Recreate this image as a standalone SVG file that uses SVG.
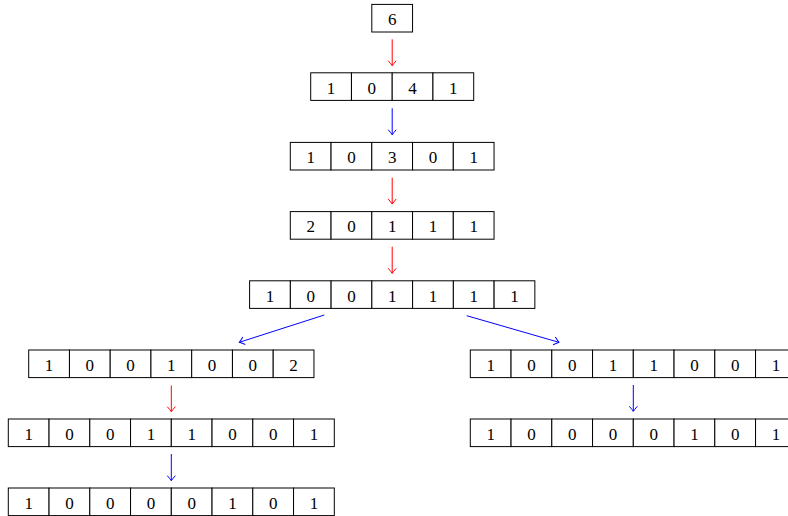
<svg xmlns="http://www.w3.org/2000/svg" width="788" height="516" viewBox="0 0 788 516">
<style>
  .c { fill: #fff; stroke: #000; stroke-width: 1; }
  .t { font-family: "Liberation Serif", "Times New Roman", serif; font-size: 17px; text-anchor: middle; fill: #000; }
  .r { stroke: #ff0000; stroke-width: 1; fill: none; }
  .b { stroke: #0000ff; stroke-width: 1; fill: none; }
</style>
<defs>
  <marker id="ar" viewBox="-6 -5 7 10" refX="0" refY="0" markerWidth="7" markerHeight="10" markerUnits="userSpaceOnUse" orient="auto">
    <path d="M-5,-4 Q-1.5,-1 0,0 Q-1.5,1 -5,4" fill="none" stroke="#ff0000" stroke-width="1"/>
  </marker>
  <marker id="ab" viewBox="-6 -5 7 10" refX="0" refY="0" markerWidth="7" markerHeight="10" markerUnits="userSpaceOnUse" orient="auto">
    <path d="M-5,-4 Q-1.5,-1 0,0 Q-1.5,1 -5,4" fill="none" stroke="#0000ff" stroke-width="1"/>
  </marker>
</defs>

<g id="n0" transform="translate(371.8,4.4)">
  <rect class="c" x="0" y="0" width="40.75" height="27.6"/>
  <text class="t" x="20.4" y="20.8">6</text>
</g>

<g id="n1" transform="translate(310.7,72.8)">
  <rect class="c" x="0" y="0" width="40.75" height="27.6"/>
  <rect class="c" x="40.75" y="0" width="40.75" height="27.6"/>
  <rect class="c" x="81.5" y="0" width="40.75" height="27.6"/>
  <rect class="c" x="122.25" y="0" width="40.75" height="27.6"/>
  <text class="t" x="20.4" y="20.8">1</text>
  <text class="t" x="61.1" y="20.8">0</text>
  <text class="t" x="101.9" y="20.8">4</text>
  <text class="t" x="142.6" y="20.8">1</text>
</g>

<g id="n2" transform="translate(290.3,142.4)">
  <rect class="c" x="0" y="0" width="40.75" height="27.6"/>
  <rect class="c" x="40.75" y="0" width="40.75" height="27.6"/>
  <rect class="c" x="81.5" y="0" width="40.75" height="27.6"/>
  <rect class="c" x="122.25" y="0" width="40.75" height="27.6"/>
  <rect class="c" x="163" y="0" width="40.75" height="27.6"/>
  <text class="t" x="20.4" y="20.8">1</text>
  <text class="t" x="61.1" y="20.8">0</text>
  <text class="t" x="101.9" y="20.8">3</text>
  <text class="t" x="142.6" y="20.8">0</text>
  <text class="t" x="183.4" y="20.8">1</text>
</g>

<g id="n3" transform="translate(290.3,211.6)">
  <rect class="c" x="0" y="0" width="40.75" height="27.6"/>
  <rect class="c" x="40.75" y="0" width="40.75" height="27.6"/>
  <rect class="c" x="81.5" y="0" width="40.75" height="27.6"/>
  <rect class="c" x="122.25" y="0" width="40.75" height="27.6"/>
  <rect class="c" x="163" y="0" width="40.75" height="27.6"/>
  <text class="t" x="20.4" y="20.8">2</text>
  <text class="t" x="61.1" y="20.8">0</text>
  <text class="t" x="101.9" y="20.8">1</text>
  <text class="t" x="142.6" y="20.8">1</text>
  <text class="t" x="183.4" y="20.8">1</text>
</g>

<g id="n4" transform="translate(249.6,280.8)">
  <rect class="c" x="0" y="0" width="40.75" height="27.6"/>
  <rect class="c" x="40.75" y="0" width="40.75" height="27.6"/>
  <rect class="c" x="81.5" y="0" width="40.75" height="27.6"/>
  <rect class="c" x="122.25" y="0" width="40.75" height="27.6"/>
  <rect class="c" x="163" y="0" width="40.75" height="27.6"/>
  <rect class="c" x="203.75" y="0" width="40.75" height="27.6"/>
  <rect class="c" x="244.5" y="0" width="40.75" height="27.6"/>
  <text class="t" x="20.4" y="20.8">1</text>
  <text class="t" x="61.1" y="20.8">0</text>
  <text class="t" x="101.9" y="20.8">0</text>
  <text class="t" x="142.6" y="20.8">1</text>
  <text class="t" x="183.4" y="20.8">1</text>
  <text class="t" x="224.1" y="20.8">1</text>
  <text class="t" x="264.9" y="20.8">1</text>
</g>

<g id="n5L" transform="translate(28.7,350)">
  <rect class="c" x="0" y="0" width="40.75" height="27.6"/>
  <rect class="c" x="40.75" y="0" width="40.75" height="27.6"/>
  <rect class="c" x="81.5" y="0" width="40.75" height="27.6"/>
  <rect class="c" x="122.25" y="0" width="40.75" height="27.6"/>
  <rect class="c" x="163" y="0" width="40.75" height="27.6"/>
  <rect class="c" x="203.75" y="0" width="40.75" height="27.6"/>
  <rect class="c" x="244.5" y="0" width="40.75" height="27.6"/>
  <text class="t" x="20.4" y="20.8">1</text>
  <text class="t" x="61.1" y="20.8">0</text>
  <text class="t" x="101.9" y="20.8">0</text>
  <text class="t" x="142.6" y="20.8">1</text>
  <text class="t" x="183.4" y="20.8">0</text>
  <text class="t" x="224.1" y="20.8">0</text>
  <text class="t" x="264.9" y="20.8">2</text>
</g>

<g id="n5R" transform="translate(470.3,350)">
  <rect class="c" x="0" y="0" width="40.75" height="27.6"/>
  <rect class="c" x="40.75" y="0" width="40.75" height="27.6"/>
  <rect class="c" x="81.5" y="0" width="40.75" height="27.6"/>
  <rect class="c" x="122.25" y="0" width="40.75" height="27.6"/>
  <rect class="c" x="163" y="0" width="40.75" height="27.6"/>
  <rect class="c" x="203.75" y="0" width="40.75" height="27.6"/>
  <rect class="c" x="244.5" y="0" width="40.75" height="27.6"/>
  <rect class="c" x="285.25" y="0" width="40.75" height="27.6"/>
  <text class="t" x="20.4" y="20.8">1</text>
  <text class="t" x="61.1" y="20.8">0</text>
  <text class="t" x="101.9" y="20.8">0</text>
  <text class="t" x="142.6" y="20.8">1</text>
  <text class="t" x="183.4" y="20.8">1</text>
  <text class="t" x="224.1" y="20.8">0</text>
  <text class="t" x="264.9" y="20.8">0</text>
  <text class="t" x="305.6" y="20.8">1</text>
</g>

<g id="n6L" transform="translate(8.3,419)">
  <rect class="c" x="0" y="0" width="40.75" height="27.6"/>
  <rect class="c" x="40.75" y="0" width="40.75" height="27.6"/>
  <rect class="c" x="81.5" y="0" width="40.75" height="27.6"/>
  <rect class="c" x="122.25" y="0" width="40.75" height="27.6"/>
  <rect class="c" x="163" y="0" width="40.75" height="27.6"/>
  <rect class="c" x="203.75" y="0" width="40.75" height="27.6"/>
  <rect class="c" x="244.5" y="0" width="40.75" height="27.6"/>
  <rect class="c" x="285.25" y="0" width="40.75" height="27.6"/>
  <text class="t" x="20.4" y="20.8">1</text>
  <text class="t" x="61.1" y="20.8">0</text>
  <text class="t" x="101.9" y="20.8">0</text>
  <text class="t" x="142.6" y="20.8">1</text>
  <text class="t" x="183.4" y="20.8">1</text>
  <text class="t" x="224.1" y="20.8">0</text>
  <text class="t" x="264.9" y="20.8">0</text>
  <text class="t" x="305.6" y="20.8">1</text>
</g>

<g id="n6R" transform="translate(470.3,419)">
  <rect class="c" x="0" y="0" width="40.75" height="27.6"/>
  <rect class="c" x="40.75" y="0" width="40.75" height="27.6"/>
  <rect class="c" x="81.5" y="0" width="40.75" height="27.6"/>
  <rect class="c" x="122.25" y="0" width="40.75" height="27.6"/>
  <rect class="c" x="163" y="0" width="40.75" height="27.6"/>
  <rect class="c" x="203.75" y="0" width="40.75" height="27.6"/>
  <rect class="c" x="244.5" y="0" width="40.75" height="27.6"/>
  <rect class="c" x="285.25" y="0" width="40.75" height="27.6"/>
  <text class="t" x="20.4" y="20.8">1</text>
  <text class="t" x="61.1" y="20.8">0</text>
  <text class="t" x="101.9" y="20.8">0</text>
  <text class="t" x="142.6" y="20.8">0</text>
  <text class="t" x="183.4" y="20.8">0</text>
  <text class="t" x="224.1" y="20.8">1</text>
  <text class="t" x="264.9" y="20.8">0</text>
  <text class="t" x="305.6" y="20.8">1</text>
</g>

<g id="n7L" transform="translate(8.3,488)">
  <rect class="c" x="0" y="0" width="40.75" height="27.6"/>
  <rect class="c" x="40.75" y="0" width="40.75" height="27.6"/>
  <rect class="c" x="81.5" y="0" width="40.75" height="27.6"/>
  <rect class="c" x="122.25" y="0" width="40.75" height="27.6"/>
  <rect class="c" x="163" y="0" width="40.75" height="27.6"/>
  <rect class="c" x="203.75" y="0" width="40.75" height="27.6"/>
  <rect class="c" x="244.5" y="0" width="40.75" height="27.6"/>
  <rect class="c" x="285.25" y="0" width="40.75" height="27.6"/>
  <text class="t" x="20.4" y="20.8">1</text>
  <text class="t" x="61.1" y="20.8">0</text>
  <text class="t" x="101.9" y="20.8">0</text>
  <text class="t" x="142.6" y="20.8">0</text>
  <text class="t" x="183.4" y="20.8">0</text>
  <text class="t" x="224.1" y="20.8">1</text>
  <text class="t" x="264.9" y="20.8">0</text>
  <text class="t" x="305.6" y="20.8">1</text>
</g>

<g id="connectors">
  <line class="r" x1="392.2" y1="39.3" x2="392.2" y2="65.7" marker-end="url(#ar)"/>
  <line class="b" x1="392.2" y1="108.3" x2="392.2" y2="134.7" marker-end="url(#ab)"/>
  <line class="r" x1="392.2" y1="177.7" x2="392.2" y2="204" marker-end="url(#ar)"/>
  <line class="r" x1="392.2" y1="246.7" x2="392.2" y2="273.3" marker-end="url(#ar)"/>
  <line class="b" x1="324.3" y1="315" x2="239.3" y2="342.3" marker-end="url(#ab)"/>
  <line class="b" x1="466.7" y1="315.7" x2="559" y2="342.3" marker-end="url(#ab)"/>
  <line class="r" x1="171.3" y1="385.5" x2="171.3" y2="411.7" marker-end="url(#ar)"/>
  <line class="b" x1="633.3" y1="385" x2="633.3" y2="411.3" marker-end="url(#ab)"/>
  <line class="b" x1="171.3" y1="454" x2="171.3" y2="480.7" marker-end="url(#ab)"/>
</g>
</svg>
